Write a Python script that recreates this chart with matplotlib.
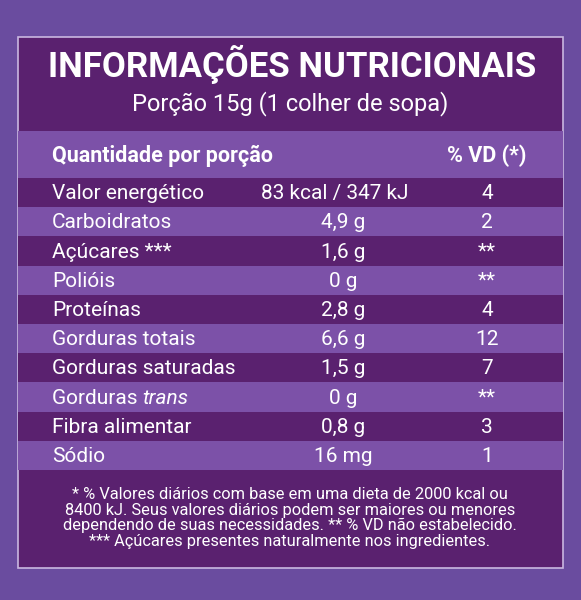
import matplotlib.pyplot as plt
from matplotlib.patches import Rectangle

plt.rcParams['font.family'] = ['Roboto', 'DejaVu Sans']

title = "INFORMAÇÕES NUTRICIONAIS"
portion = "Porção 15g (1 colher de sopa)"
header = ["Quantidade por porção", "% VD (*)"]
nutrients = ["Valor energético", "Carboidratos", "Açúcares ***", "Polióis", "Proteínas",
             "Gorduras totais", "Gorduras saturadas", "Gorduras trans", "Fibra alimentar", "Sódio"]
amounts = ["83 kcal / 347 kJ", "4,9 g", "1,6 g", "0 g", "2,8 g",
           "6,6 g", "1,5 g", "0 g", "0,8 g", "16 mg"]
vd = ["4", "2", "**", "**", "4", "12", "7", "**", "3", "1"]
footnote = ("* % Valores diários com base em uma dieta de 2000 kcal ou\n"
            "8400 kJ. Seus valores diários podem ser maiores ou menores\n"
            "dependendo de suas necessidades. ** % VD não estabelecido.\n"
            "*** Açúcares presentes naturalmente nos ingredientes.")

BG = '#6a4c9f'
DARK = '#5a216f'
LIGHT = '#7c51a8'
FS = 15

fig = plt.figure(figsize=(5.81, 6.0), dpi=100, facecolor=BG)
ax = fig.add_axes([0, 0, 1, 1])
ax.set_xlim(0, 581)
ax.set_ylim(600, 0)
ax.axis('off')

x0, x1 = 18, 563
ax.add_patch(Rectangle((x0, 37), x1 - x0, 531, facecolor=DARK, edgecolor='#c9b8e0', lw=1.2))
ax.add_patch(Rectangle((x0, 131), x1 - x0, 47, facecolor=LIGHT, lw=0))

row_h = 29.2
y_start = 178
for i, (name, amt, v) in enumerate(zip(nutrients, amounts, vd)):
    y = y_start + i * row_h
    ax.add_patch(Rectangle((x0, y), x1 - x0, row_h, facecolor=DARK if i % 2 == 0 else LIGHT, lw=0))
    yc = y + row_h / 2 + 1
    if name == "Gorduras trans":
        t = ax.text(52, yc, "Gorduras ", color='white', fontsize=FS, va='center', ha='left')
        ax.annotate("trans", xy=(1, 0.5), xycoords=t, color='white', fontsize=FS,
                    va='center', ha='left', style='italic')
    else:
        ax.text(52, yc, name, color='white', fontsize=FS, va='center', ha='left')
    ax.text(335 if i == 0 else 343, yc, amt, color='white', fontsize=FS, va='center', ha='center')
    ax.text(487, yc, v, color='white', fontsize=FS, va='center', ha='center')

ax.text(292, 64, title, color='white', fontsize=25, fontweight='bold', ha='center', va='center')
ax.text(290, 104, portion, color='white', fontsize=17, ha='center', va='center')
ax.text(52, 156, header[0], color='white', fontsize=15.5, fontweight='bold', ha='left', va='center')
ax.text(487, 156, header[1], color='white', fontsize=15.5, fontweight='bold', ha='center', va='center')
ax.text(290, 518, footnote, color='white', fontsize=11.8, ha='center', va='center', linespacing=1.05)

fig.savefig('out.png', dpi=100, facecolor=BG)
